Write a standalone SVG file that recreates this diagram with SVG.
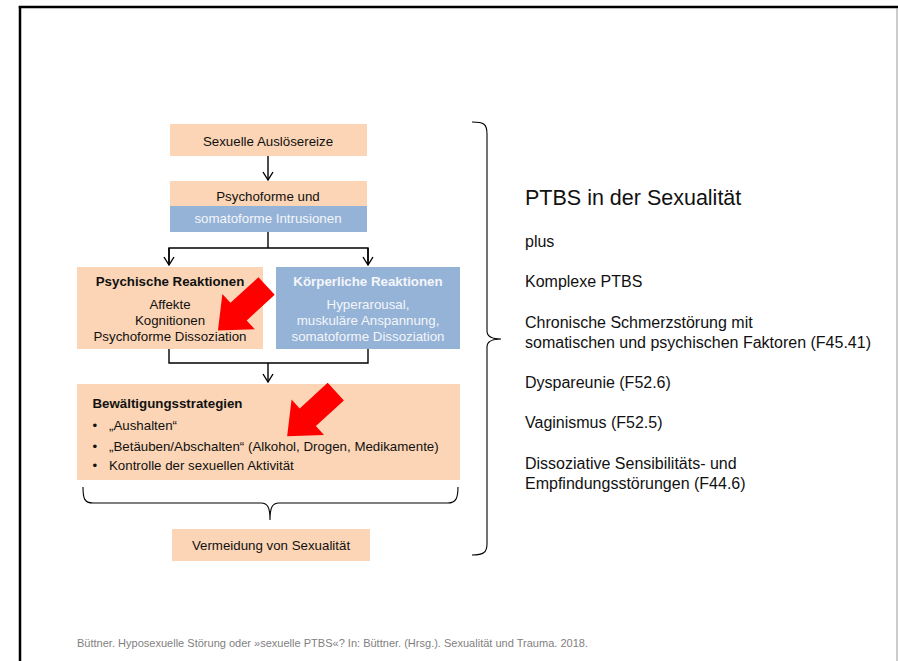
<svg xmlns="http://www.w3.org/2000/svg" xmlns:xlink="http://www.w3.org/1999/xlink" width="898" height="661" viewBox="0 0 898 661">
<defs>
<style>
text{font-family:"Liberation Sans",Arial,sans-serif;fill:#111;}
.t{font-size:13.3px;}
.c{text-anchor:middle;}
.b{font-weight:bold;}
.w{fill:#f4f6fa;}
.r{font-size:16px;}
.peach{fill:#fbd5b5;}
.blue{fill:#95b3d7;}
.ln{fill:none;stroke:#000;stroke-width:1.4;}
.br{fill:none;stroke:#000;stroke-width:1.1;}
</style>
<marker id="ah" viewBox="0 0 12 12" refX="10" refY="6" markerWidth="12" markerHeight="12" markerUnits="userSpaceOnUse" orient="auto">
<path d="M2,1 L10,6 L2,11" fill="none" stroke="#000" stroke-width="1.4"/>
</marker>
<polygon id="redarrow" points="0,-12 38,-12 38,-24 66,0 38,24 38,12 0,12" fill="#ff0000"/>
</defs>
<rect x="0" y="0" width="898" height="661" fill="#fff"/>
<g id="frame">
<line x1="18.8" y1="7" x2="898" y2="7" stroke="#000" stroke-width="2.5"/>
<line x1="20" y1="6" x2="20" y2="661" stroke="#000" stroke-width="2.5"/>
<line x1="897" y1="8" x2="897" y2="661" stroke="#999" stroke-width="1"/>
</g>
<g id="connectors">
<line class="ln" x1="268" y1="156" x2="268" y2="180" marker-end="url(#ah)"/>
<polyline class="ln" points="268,232 268,248"/>
<polyline class="ln" points="169,264 169,248 368,248 368,264"/>
<line class="ln" x1="169" y1="248" x2="169" y2="265" marker-end="url(#ah)"/>
<line class="ln" x1="368" y1="248" x2="368" y2="265" marker-end="url(#ah)"/>
<polyline class="ln" points="169,349 169,363 368,363 368,349"/>
<line class="ln" x1="268" y1="363" x2="268" y2="382" marker-end="url(#ah)"/>
<path class="br" d="M83,487 C83,498 84,503 93,503 L261,503 C268,503 270,508 270,520 C270,508 272,503 279,503 L448,503 C456,503 458,498 458,487"/>
<path class="br" d="M472,122 C484,122 487,124 487,134 L487,331 C487,337 492,339 501,339 C492,339 487,341 487,347 L487,544 C487,552 484,555 472,555"/>
</g>
<g id="n-ausloesereize">
<rect class="peach" x="170" y="124" width="197" height="32"/>
<text class="t c" x="268" y="145.5">Sexuelle Auslösereize</text>
</g>
<g id="n-intrusionen">
<rect class="peach" x="170" y="181" width="197" height="25"/>
<rect class="blue" x="170" y="206" width="197" height="26"/>
<text class="t c" x="268" y="201">Psychoforme und</text>
<text class="t c w" x="268" y="223">somatoforme Intrusionen</text>
</g>
<g id="n-psychische">
<rect class="peach" x="77" y="267" width="186" height="82"/>
<text class="t c b" x="170" y="285.5">Psychische Reaktionen</text>
<text class="t c" x="170" y="309">Affekte</text>
<text class="t c" x="170" y="324.5">Kognitionen</text>
<text class="t c" x="170" y="340.5">Psychoforme Dissoziation</text>
</g>
<g id="n-koerperliche">
<rect class="blue" x="276" y="267" width="184" height="82"/>
<text class="t c b w" x="368" y="285.5">Körperliche Reaktionen</text>
<text class="t c w" x="368" y="309">Hyperarousal,</text>
<text class="t c w" x="368" y="324.5">muskuläre Anspannung,</text>
<text class="t c w" x="368" y="340.5">somatoforme Dissoziation</text>
</g>
<g id="n-bewaeltigung">
<rect class="peach" x="77" y="384" width="383" height="96"/>
<text class="t b" x="92.5" y="408">Bewältigungsstrategien</text>
<text class="t" x="92.5" y="430">•</text>
<text class="t" x="109" y="430">„Aushalten“</text>
<text class="t" x="92.5" y="451">•</text>
<text class="t" x="109" y="451">„Betäuben/Abschalten“ (Alkohol, Drogen, Medikamente)</text>
<text class="t" x="92.5" y="470">•</text>
<text class="t" x="109" y="470">Kontrolle der sexuellen Aktivität</text>
</g>
<g id="n-vermeidung">
<rect class="peach" x="172" y="529" width="198" height="32"/>
<text class="t c" x="271" y="549.5">Vermeidung von Sexualität</text>
</g>
<g id="red-arrows">
<use xlink:href="#redarrow" transform="translate(266.6,286) rotate(137.5)"/>
<use xlink:href="#redarrow" transform="translate(335.8,391.6) rotate(137.5)"/>
</g>
<g id="n-ptbs">
<text x="525" y="205" style="font-size:21.5px">PTBS in der Sexualität</text>
<text class="r" x="525" y="247">plus</text>
<text class="r" x="525" y="287">Komplexe PTBS</text>
<text class="r" x="525" y="328">Chronische Schmerzstörung mit</text>
<text class="r" x="525" y="348">somatischen und psychischen Faktoren (F45.41)</text>
<text class="r" x="525" y="388">Dyspareunie (F52.6)</text>
<text class="r" x="525" y="428">Vaginismus (F52.5)</text>
<text class="r" x="525" y="469">Dissoziative Sensibilitäts- und</text>
<text class="r" x="525" y="489">Empfindungsstörungen (F44.6)</text>
</g>
<g id="footer">
<text x="77" y="647" style="font-size:10.5px;fill:#7f7f7f" textLength="511" lengthAdjust="spacingAndGlyphs">Büttner. Hyposexuelle Störung oder »sexuelle PTBS«? In: Büttner. (Hrsg.). Sexualität und Trauma. 2018.</text>
</g>
</svg>
